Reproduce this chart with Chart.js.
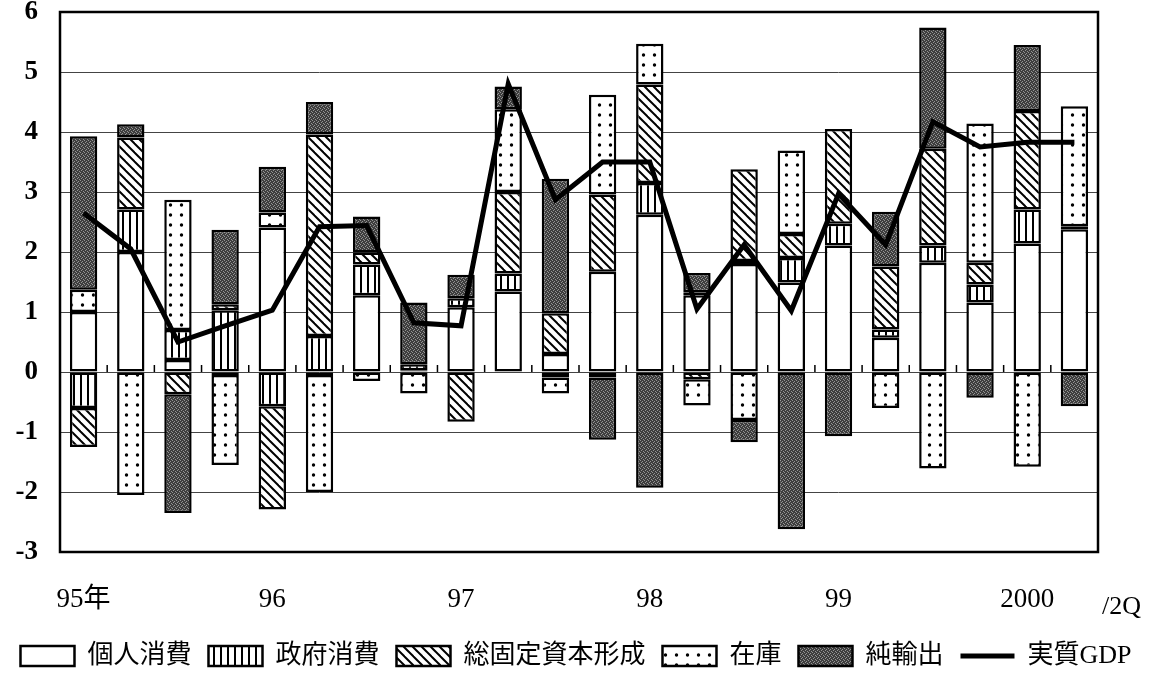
<!DOCTYPE html>
<html>
<head>
<meta charset="utf-8">
<script src="https://cdn.jsdelivr.net/npm/chart.js@4.4.0/dist/chart.umd.min.js"></script>
<style>
html, body { margin: 0; padding: 0; background: #fff; }
</style>
</head>
<body>
<canvas id="gdpChart" width="1152" height="674"></canvas>
<script>
// 実質GDP成長率と寄与度（前期比年率、%）
const quarters = ['95Q1','95Q2','95Q3','95Q4','96Q1','96Q2','96Q3','96Q4','97Q1','97Q2','97Q3','97Q4',
                  '98Q1','98Q2','98Q3','98Q4','99Q1','99Q2','99Q3','99Q4','00Q1','00Q2'];
const tickLabels = ['95年','','','','96','','','','97','','','','98','','','','99','','','','2000',''];

const privCons   = [1.00, 2.00, 0.20, -0.05, 2.41, -0.05, 1.28, 0.03, 1.08, 1.34, 0.30, 1.67, 2.62, 1.28, 1.80, 1.49, 2.11, 0.57, 1.82, 1.16, 2.14, 2.38];
const govCons    = [-0.60, 0.71, 0.50, 1.03, -0.57, 0.60, 0.51, 0.10, 0.15, 0.30, -0.09, -0.09, 0.53, 0.05, 0.05, 0.41, 0.36, 0.14, 0.29, 0.30, 0.57, 0.05];
const fixedInv   = [-0.65, 1.20, -0.37, 0.10, -1.72, 3.36, 0.20, 0.00, -0.83, 1.36, 0.68, 1.29, 1.64, -0.12, 1.53, 0.40, 1.58, 1.05, 1.61, 0.36, 1.64, 0.00];
const inventory  = [0.37, -2.05, 2.17, -1.50, 0.25, -1.95, -0.15, -0.36, 0.00, 1.38, -0.27, 1.66, 0.68, -0.44, -0.80, 1.39, 0.00, -0.60, -1.61, 2.32, -1.58, 2.00];
const netExports = [2.56, 0.22, -1.98, 1.24, 0.76, 0.54, 0.60, 1.03, 0.39, 0.38, 2.24, -1.04, -1.93, 0.32, -0.37, -2.62, -1.07, 0.91, 2.02, -0.43, 1.10, -0.57];
const realGdp    = [2.65, 2.05, 0.50, 0.77, 1.03, 2.42, 2.44, 0.82, 0.77, 4.80, 2.87, 3.50, 3.50, 1.05, 2.12, 1.02, 2.97, 2.12, 4.17, 3.75, 3.83, 3.83];

const serif = "'Liberation Serif', 'Noto Sans CJK JP', serif";
const legendFont = "'Liberation Serif', 'Noto Sans CJK JP', sans-serif";

const canvas = document.getElementById('gdpChart');
const mainCtx = canvas.getContext('2d');

function makePattern(w, h, draw) {
    const c = document.createElement('canvas');
    c.width = w;
    c.height = h;
    const g = c.getContext('2d');
    g.fillStyle = '#fff';
    g.fillRect(0, 0, w, h);
    draw(g, w, h);
    return mainCtx.createPattern(c, 'repeat');
}

// 政府消費: 縦線
const stripePattern = makePattern(7, 4, function (g, w, h) {
    g.fillStyle = '#000';
    g.fillRect(3, 0, 2, h);
});

// 総固定資本形成: 斜線
const hatchPattern = makePattern(9, 9, function (g, w, h) {
    g.strokeStyle = '#000';
    g.lineWidth = 2;
    [-w, 0, w].forEach(function (k) {
        g.beginPath();
        g.moveTo(k - 1, -1);
        g.lineTo(k + w + 1, h + 1);
        g.stroke();
    });
});

// 在庫: 点
const dotPattern = makePattern(11, 10, function (g) {
    g.fillStyle = '#000';
    g.beginPath();
    g.arc(5.5, 5, 1.7, 0, Math.PI * 2);
    g.fill();
});

// 純輸出: 濃い網掛け
const darkPattern = makePattern(4, 4, function (g) {
    g.fillStyle = '#3e3e3e';
    g.fillRect(0, 0, 4, 4);
    g.fillStyle = '#949494';
    g.fillRect(0, 0, 1, 1);
    g.fillRect(2, 1, 1, 1);
    g.fillRect(1, 2, 1, 1);
    g.fillRect(3, 3, 1, 1);
});

function barSet(label, data, fill) {
    return {
        type: 'bar',
        label: label,
        data: data,
        backgroundColor: fill,
        borderColor: '#000',
        borderWidth: 2.5,
        borderSkipped: false,
        stack: 'contrib',
        order: 1,
        categoryPercentage: 1.0,
        barPercentage: 0.58
    };
}

const zeroTicksAndFrame = {
    id: 'zeroTicksAndFrame',
    beforeDatasetsDraw(chart) {
        const ctx = chart.ctx;
        const xs = chart.scales.x;
        const y0 = chart.scales.y.getPixelForValue(0);
        ctx.save();
        ctx.strokeStyle = '#000';
        ctx.lineWidth = 1.5;
        for (let i = 1; i < quarters.length; i++) {
            const x = (xs.getPixelForValue(i - 1) + xs.getPixelForValue(i)) / 2;
            ctx.beginPath();
            ctx.moveTo(x, y0);
            ctx.lineTo(x, y0 - 7);
            ctx.stroke();
        }
        ctx.restore();
    },
    afterDraw(chart) {
        const ctx = chart.ctx;
        const a = chart.chartArea;
        ctx.save();
        ctx.strokeStyle = '#000';
        ctx.lineWidth = 2.5;
        ctx.strokeRect(a.left, a.top, a.right - a.left, a.bottom - a.top);
        ctx.fillStyle = '#000';
        ctx.font = '26px ' + serif;
        ctx.textAlign = 'left';
        ctx.textBaseline = 'middle';
        ctx.fillText('/2Q', a.right + 4, a.bottom + 55);
        ctx.restore();
    }
};

new Chart(canvas, {
    data: {
        labels: quarters,
        datasets: [
            barSet('個人消費', privCons, '#fff'),
            barSet('政府消費', govCons, stripePattern),
            barSet('総固定資本形成', fixedInv, hatchPattern),
            barSet('在庫', inventory, dotPattern),
            barSet('純輸出', netExports, darkPattern),
            {
                type: 'line',
                label: '実質GDP',
                data: realGdp,
                borderColor: '#000',
                backgroundColor: '#000',
                borderWidth: 5,
                pointRadius: 0,
                tension: 0,
                fill: false,
                stack: 'gdp',
                order: 0
            }
        ]
    },
    options: {
        responsive: false,
        devicePixelRatio: 1,
        animation: false,
        layout: {
            padding: { top: 12, right: 0, left: 0, bottom: -5 }
        },
        scales: {
            x: {
                stacked: true,
                grid: { display: false, drawTicks: false },
                border: { display: false },
                ticks: {
                    autoSkip: false,
                    maxRotation: 0,
                    padding: 32,
                    color: '#000',
                    font: { family: serif, size: 27 },
                    callback: function (v, i) { return tickLabels[i]; }
                },
                afterFit: function (s) {
                    s.height = 74;
                    s.paddingLeft = 0;
                    s.paddingRight = 0;
                }
            },
            y: {
                stacked: true,
                min: -3,
                max: 6,
                grid: { color: '#444', lineWidth: 1, drawTicks: false },
                border: { display: false },
                ticks: {
                    stepSize: 1,
                    padding: 22,
                    color: '#000',
                    font: { family: serif, size: 27, weight: 'bold' }
                },
                afterFit: function (s) {
                    s.width = 60;
                    s.paddingTop = 0;
                    s.paddingBottom = 0;
                }
            },
            // 右側の余白（/2Q の表示位置）
            yRight: {
                position: 'right',
                min: -3,
                max: 6,
                grid: { display: false, drawTicks: false },
                border: { display: false },
                ticks: { display: false },
                afterFit: function (s) {
                    s.width = 54;
                    s.paddingTop = 0;
                    s.paddingBottom = 0;
                }
            }
        },
        plugins: {
            tooltip: { enabled: false },
            legend: {
                position: 'bottom',
                labels: {
                    usePointStyle: true,
                    pointStyleWidth: 54,
                    boxHeight: 20,
                    padding: 17,
                    color: '#000',
                    font: { family: legendFont, size: 26 },
                    sort: function (a, b) { return a.datasetIndex - b.datasetIndex; },
                    generateLabels: function (chart) {
                        const items = Chart.defaults.plugins.legend.labels.generateLabels(chart);
                        items.forEach(function (it) {
                            if (it.datasetIndex === 5) {
                                it.pointStyle = 'line';
                                it.lineWidth = 5;
                            } else {
                                it.pointStyle = 'rect';
                                it.lineWidth = 2.5;
                            }
                            it.strokeStyle = '#000';
                        });
                        return items;
                    }
                }
            }
        }
    },
    plugins: [zeroTicksAndFrame]
});
</script>
</body>
</html>
